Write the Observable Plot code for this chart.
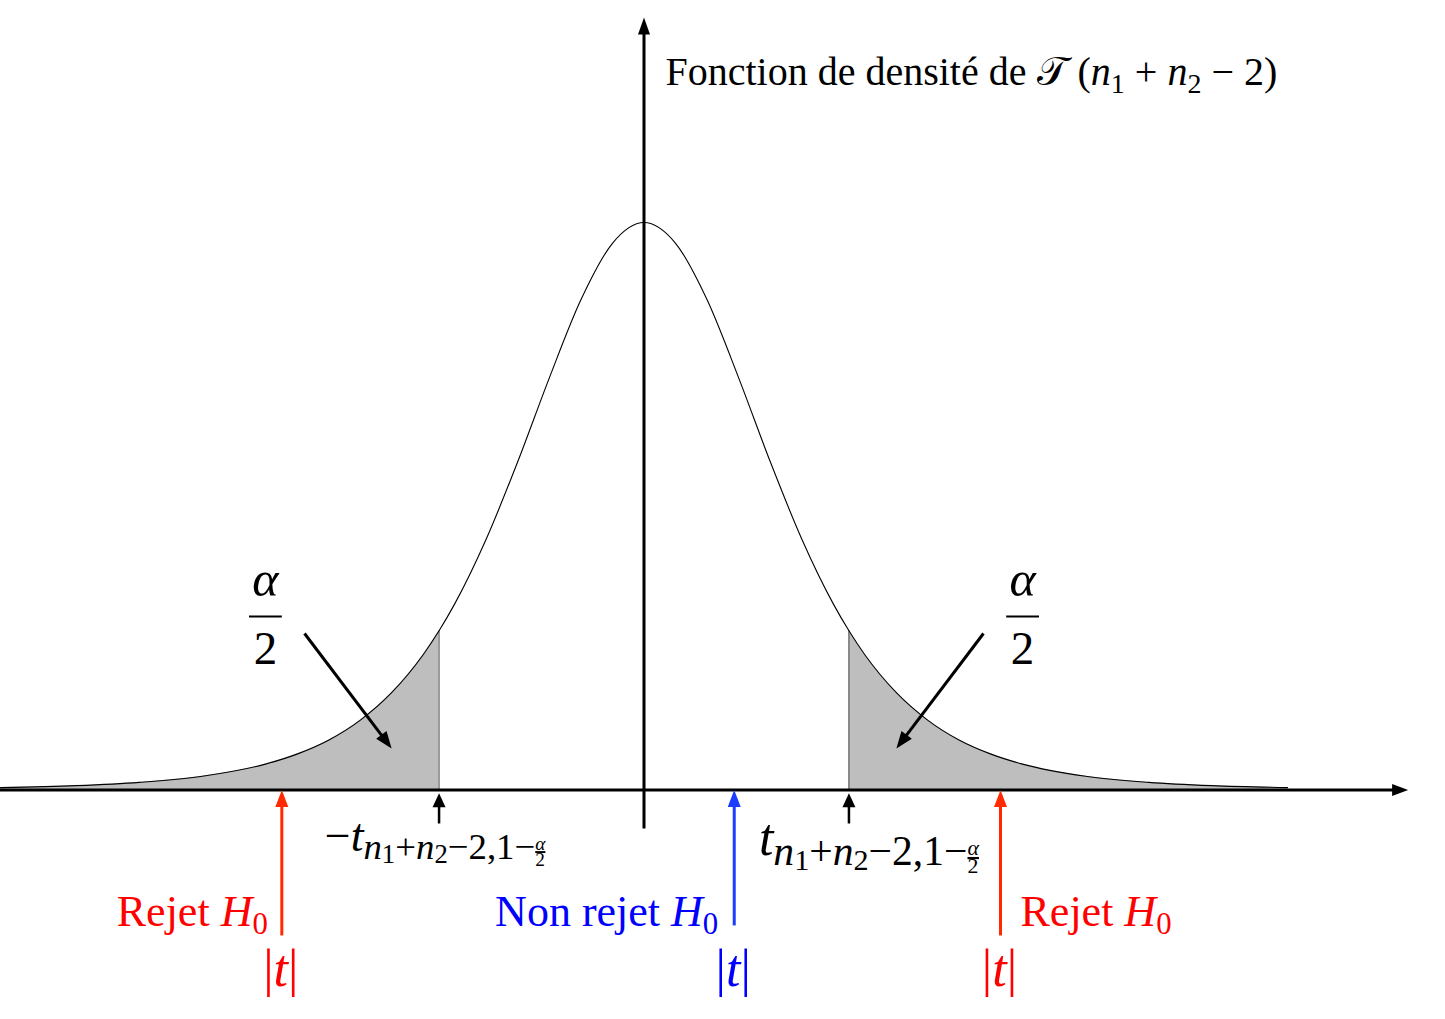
<!DOCTYPE html>
<html>
<head>
<meta charset="utf-8">
<script src="https://cdn.jsdelivr.net/npm/d3@7"></script>
<script src="https://cdn.jsdelivr.net/npm/@observablehq/plot@0.6"></script>
<style>
html, body { margin: 0; padding: 0; background: #fff; }
#chart svg { display: block; }
</style>
</head>
<body>
<div id="chart"></div>
<script>
// ---------------- data ----------------
const tValues = [-5.1, -4.5, -4, -3.5, -3, -2.75, -2.5, -2.25, -2, -1.75, -1.624, -1.5, -1.25, -1, -0.75, -0.5, -0.25,
  0, 0.25, 0.5, 0.75, 1, 1.25, 1.5, 1.624, 1.75, 2, 2.25, 2.5, 2.75, 3, 3.5, 4, 4.5, 5.1];
const densityValues = [0.0016, 0.0029, 0.0051, 0.0092, 0.0173, 0.0240, 0.0333, 0.0466, 0.0651, 0.0905, 0.1065, 0.1245, 0.1679, 0.2197, 0.2757, 0.3279, 0.3657,
  0.3796, 0.3657, 0.3279, 0.2757, 0.2197, 0.1679, 0.1245, 0.1065, 0.0905, 0.0651, 0.0466, 0.0333, 0.0240, 0.0173, 0.0092, 0.0051, 0.0029, 0.0016];
const criticalValue = 1.624;
const observedT = [-2.87, 0.715, 2.825];
const observedDecision = ["Rejet", "Non rejet", "Rejet"];
const observedRejects = [true, false, true];
const tailAreaLabel = ["α", "2"];
const densityTitle = "Fonction de densité de 𝒯 (n1 + n2 − 2)";
const criticalLabels = ["−t n1+n2−2,1−α/2", "t n1+n2−2,1−α/2"];
const statLabel = "|t|";

// ---------------- derived tables ----------------
const curveData = tValues.map((t, i) => ({t, d: densityValues[i]}));
const critDensity = densityValues[tValues.indexOf(criticalValue)];
const observed = observedT.map((t, i) => ({t, decision: observedDecision[i], reject: observedRejects[i]}));

// ---------------- scales & styles ----------------
const xScaleOpts = {domain: [-5.1, 5.1], range: [-0.1, 1287.1]};
const yScaleOpts = {domain: [0, 0.3796], range: [789.5, 222]};
const sx = Plot.scale({x: xScaleOpts});
const sy = Plot.scale({y: yScaleOpts});

const RED_ARROW = "#ff2a00", BLUE_ARROW = "#1a3dff";
const RED_TEXT = "#ff0000", BLUE_TEXT = "#0000ff";
const FONT = "Liberation Serif";

// filled arrowhead symbol, tip at origin, pointing at angle (deg, clockwise from up)
function headSymbol(angleDeg, len, half) {
  const a = angleDeg * Math.PI / 180, c = Math.cos(a), s = Math.sin(a);
  const rot = (x, y) => [x * c - y * s, x * s + y * c];
  return {
    draw(ctx) {
      const p0 = rot(0, 0), p1 = rot(-half, len), p2 = rot(half, len);
      ctx.moveTo(p0[0], p0[1]); ctx.lineTo(p1[0], p1[1]); ctx.lineTo(p2[0], p2[1]); ctx.closePath();
    }
  };
}

function arrowMarks(a) {
  const px1 = sx.apply(a.x1), py1 = sy.apply(a.y1), px2 = sx.apply(a.x2), py2 = sy.apply(a.y2);
  const L = Math.hypot(px2 - px1, py2 - py1), ux = (px2 - px1) / L, uy = (py2 - py1) / L;
  const ang = Math.atan2(ux, -uy) * 180 / Math.PI;
  const row = {x1: a.x1, y1: a.y1, x2: a.x2, y2: a.y2,
    ex: sx.invert(px2 - ux * a.len * 0.6), ey: sy.invert(py2 - uy * a.len * 0.6)};
  return [
    Plot.link([row], {x1: "x1", y1: "y1", x2: "ex", y2: "ey", stroke: a.color, strokeWidth: a.width, strokeLinecap: "butt"}),
    Plot.dot([row], {x: "x2", y: "y2", symbol: headSymbol(ang, a.len, a.half), fill: a.color, stroke: "none", r: 6})
  ];
}

// annotation layout (data units)
const arrows = [
  // axes
  {x1: -5.2, y1: 0, x2: 6.055, y2: 0, color: "black", width: 3, len: 16, half: 6},
  {x1: 0, y1: -0.0258, x2: 0, y2: 0.5168, color: "black", width: 3, len: 17, half: 6},
  // tail-area pointers
  {x1: -2.69, y1: 0.1047, x2: -2.0, y2: 0.0278, color: "black", width: 3, len: 17, half: 6.5},
  {x1: 2.69, y1: 0.1047, x2: 2.0, y2: 0.0278, color: "black", width: 3, len: 17, half: 6.5},
  // critical value pointers
  ...[-1, 1].map(s => ({x1: s * criticalValue, y1: -0.0224, x2: s * criticalValue, y2: -0.0021, color: "black", width: 2.5, len: 14, half: 6.5})),
  // observed statistics
  ...observed.map(o => ({x1: o.t, y1: o.reject ? -0.0973 : -0.0906, x2: o.t, y2: 0, color: o.reject ? RED_ARROW : BLUE_ARROW, width: 3, len: 17, half: 6.5}))
];

const txt = {fontFamily: FONT, lineAnchor: "bottom"};
const marks = [
  Plot.areaY(curveData.filter(d => d.t <= -criticalValue), {x: "t", y: "d", fill: "#bebebe", curve: "monotone-x"}),
  Plot.areaY(curveData.filter(d => d.t >= criticalValue), {x: "t", y: "d", fill: "#bebebe", curve: "monotone-x"}),
  Plot.ruleX([-criticalValue, criticalValue], {y1: 0, y2: critDensity, stroke: "#4a4a4a", strokeWidth: 1}),
  Plot.line(curveData, {x: "t", y: "d", stroke: "black", strokeWidth: 1.1, curve: "monotone-x"}),
  ...arrows.flatMap(arrowMarks),
  // title of the density
  Plot.text([densityTitle], {...txt, x: 0.17, y: 0.4713, text: d => d, textAnchor: "start", fontSize: 40, fill: "black"}),
  // alpha / 2 fractions
  Plot.text([-1, 1], {...txt, x: s => s * 3.0, y: 0.1301, text: () => tailAreaLabel[0], fontSize: 50, fontStyle: "italic", fill: "black"}),
  Plot.text([-1, 1], {...txt, x: s => s * 3.0, y: 0.0846, text: () => tailAreaLabel[1], fontSize: 47, fill: "black"}),
  Plot.link([-1, 1], {x1: s => s * 3.0 - 0.13, x2: s => s * 3.0 + 0.13, y1: 0.1161, y2: 0.1161, stroke: "black", strokeWidth: 2}),
  // critical labels
  Plot.text([criticalLabels[0]], {...txt, x: -criticalValue, y: -0.0405, text: d => d, textAnchor: "middle", dx: -4, fontSize: 46, fill: "black"}),
  Plot.text([criticalLabels[1]], {...txt, x: criticalValue, y: -0.0438, text: d => d, textAnchor: "middle", dx: 20, fontSize: 52, fill: "black"}),
  // decisions
  Plot.text(observed.filter(o => o.t < 0), {...txt, x: "t", y: -0.0913, text: o => o.decision + " H0", textAnchor: "end", dx: -14, fontSize: 44, fill: RED_TEXT}),
  Plot.text(observed.filter(o => !o.reject), {...txt, x: "t", y: -0.0913, text: o => o.decision + " H0", textAnchor: "end", dx: -16, fontSize: 44, fill: BLUE_TEXT}),
  Plot.text(observed.filter(o => o.t > 0 && o.reject), {...txt, x: "t", y: -0.0913, text: o => o.decision + " H0", textAnchor: "start", dx: 20, fontSize: 44, fill: RED_TEXT}),
  Plot.text(observed, {...txt, x: "t", y: -0.1308, text: () => statLabel, textAnchor: "middle", dx: -1, fontSize: 52, fill: o => o.reject ? RED_TEXT : BLUE_TEXT})
];

const svg = Plot.plot({
  width: 1445,
  height: 1019,
  margin: 0,
  x: {...xScaleOpts, axis: null},
  y: {...yScaleOpts, axis: null},
  color: {type: "identity"},
  style: {background: "white", fontFamily: FONT, overflow: "visible"},
  marks
});
document.getElementById("chart").appendChild(svg);

// ---------------- rich text (italics, subscripts, small fraction) ----------------
const critParts = (minus) => [
  ...(minus ? [{s: "−"}] : []),
  {s: "t", it: true},
  {s: "n", it: true, lvl: 1}, {s: "1", lvl: 2}, {s: "+", lvl: 1}, {s: "n", it: true, lvl: 1}, {s: "2", lvl: 2},
  {s: "−2,1−", lvl: 1}, {frac: ["α", "2"], lvl: 1}
];
const critScale = [1, 0.8, 0.58];
const richSpecs = new Map([
  [densityTitle, {size: 40, parts: [{s: "Fonction de densité de "}, {s: "𝒯"}, {s: " ("}, {s: "n", it: true}, {s: "1", lvl: 1},
    {s: " + "}, {s: "n", it: true}, {s: "2", lvl: 1}, {s: " − 2)"}]}],
  [criticalLabels[0], {size: 46, scale: critScale, frac: 0.42, parts: critParts(true)}],
  [criticalLabels[1], {size: 52, scale: critScale, frac: 0.42, parts: critParts(false)}],
  ["Rejet H0", {size: 44, parts: [{s: "Rejet "}, {s: "H", it: true}, {s: "0", lvl: 1}]}],
  ["Non rejet H0", {size: 44, parts: [{s: "Non rejet "}, {s: "H", it: true}, {s: "0", lvl: 1}]}],
  [statLabel, {size: 52, parts: [{s: "|"}, {s: "t", it: true}, {s: "|"}]}]
]);
const NS = "http://www.w3.org/2000/svg";
function renderRich(el, {size, parts, scale = [1, 0.7, 0.52], frac = 0.36}) {
  el.textContent = "";
  el.style.whiteSpace = "pre";
  const shift = [0, 0.18, 0.27];
  let cur = 0;
  const add = (str, fsz, off, opts = {}) => {
    const ts = document.createElementNS(NS, "tspan");
    ts.textContent = str;
    ts.setAttribute("font-size", fsz.toFixed(2));
    ts.setAttribute("dy", (off - cur).toFixed(2));
    if (opts.dx) ts.setAttribute("dx", opts.dx.toFixed(2));
    if (opts.it) ts.setAttribute("font-style", "italic");
    if (opts.ul) ts.setAttribute("text-decoration", "underline");
    cur = off;
    el.appendChild(ts);
  };
  for (const p of parts) {
    const lvl = p.lvl || 0;
    if (p.frac) {
      const fsz = size * frac, base = shift[lvl] * size;
      add(p.frac[0], fsz, base - 0.19 * size, {it: true, ul: true});
      add(p.frac[1], fsz, base + 0.16 * size, {dx: -0.52 * fsz});
      continue;
    }
    add(p.s, size * scale[lvl], shift[lvl] * size, {it: p.it});
  }
}
svg.querySelectorAll("text").forEach(el => {
  const spec = richSpecs.get(el.textContent);
  if (spec) renderRich(el, spec);
});
</script>
</body>
</html>
